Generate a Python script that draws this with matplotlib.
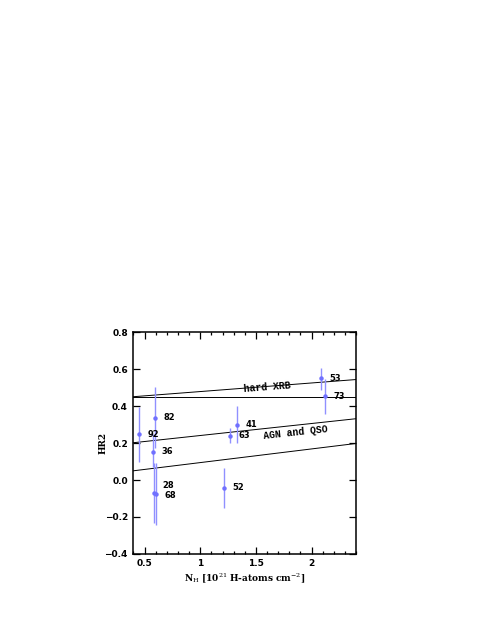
import matplotlib
matplotlib.use('Agg')
import matplotlib.pyplot as plt

# Sources: N_H [1e21 cm^-2], HR2 and its error bar
src_id = ['92', '82', '36', '28', '68', '52', '63', '41', '53', '73']
nh = [0.454, 0.595, 0.58, 0.586, 0.604, 1.211, 1.268, 1.334, 2.083, 2.122]
hr2 = [0.247, 0.337, 0.153, -0.068, -0.074, -0.041, 0.241, 0.300, 0.551, 0.454]
hr2_lo = [0.099, 0.171, 0.07, -0.23, -0.243, -0.15, 0.198, 0.198, 0.49, 0.357]
hr2_hi = [0.393, 0.505, 0.25, 0.09, 0.09, 0.065, 0.28, 0.40, 0.609, 0.548]
label_dy = [0, 0, 0, 5, -1, 0, 0, 0, 0, 0]

# Model lines (endpoints)
nh_grid = [0.4, 2.4]
xrb_upper = [0.451, 0.544]
xrb_flat = [0.452, 0.452]
agn_upper = [0.202, 0.332]
agn_lower = [0.050, 0.198]

plt.rcParams['font.family'] = ['DejaVu Sans']
plt.rcParams['font.size'] = 6.5
plt.rcParams['mathtext.fontset'] = 'dejavuserif'

fig = plt.figure(figsize=(4.8, 6.21), dpi=100)
ax = fig.add_axes([0.278, 0.108, 0.464, 0.357])

blue = '#7070ff'
yerr = [[h - l for h, l in zip(hr2, hr2_lo)], [u - h for h, u in zip(hr2, hr2_hi)]]
ax.errorbar(nh, hr2, yerr=yerr, fmt='o', ms=2.2, color=blue, ecolor='#9090ff',
            elinewidth=1.0, capsize=0, zorder=3)
for x, y, s, dy in zip(nh, hr2, src_id, label_dy):
    ax.annotate(s, (x, y), xytext=(6, dy), textcoords='offset points',
                va='center', ha='left', fontsize=6, fontweight='bold')

for curve in [xrb_upper, xrb_flat, agn_upper, agn_lower]:
    ax.plot(nh_grid, curve, color='black', lw=0.7, zorder=2)

ax.text(1.60, 0.501, 'hard XRB', rotation=4.5, ha='center', va='center',
        family='Liberation Mono', fontweight='bold', fontsize=7)
ax.text(1.856, 0.256, 'AGN and QSO', rotation=6.2, ha='center', va='center',
        family='Liberation Mono', fontweight='bold', fontsize=7)

ax.set_xlim(0.4, 2.4)
ax.set_ylim(-0.4, 0.8)
ax.set_xticks([0.5, 1, 1.5, 2])
ax.set_xticklabels(['0.5', '1', '1.5', '2'])
ax.set_xticks([x / 10 for x in range(4, 25)], minor=True)
ax.set_yticks([-0.4, -0.2, 0.0, 0.2, 0.4, 0.6, 0.8])
ax.set_yticklabels(['\u22120.4', '\u22120.2', '0.0', '0.2', '0.4', '0.6', '0.8'])
ax.tick_params(which='both', direction='in', top=True, right=True, width=0.9)
ax.tick_params(which='major', length=5, labelsize=6.5, pad=4)
ax.tick_params(which='minor', length=2.5)
for lbl in ax.get_xticklabels() + ax.get_yticklabels():
    lbl.set_fontweight('bold')
for sp in ax.spines.values():
    sp.set_linewidth(1.1)

ax.set_xlabel(r'N$_\mathrm{H}$ [10$^{21}$ H-atoms cm$^{-2}$]', fontsize=6.5,
              family='DejaVu Serif', fontweight='bold', labelpad=1.5)
ax.set_ylabel('HR2', fontsize=6.5, fontweight='bold', family='DejaVu Serif',
              labelpad=-2)

fig.savefig('out.png', dpi=100)
